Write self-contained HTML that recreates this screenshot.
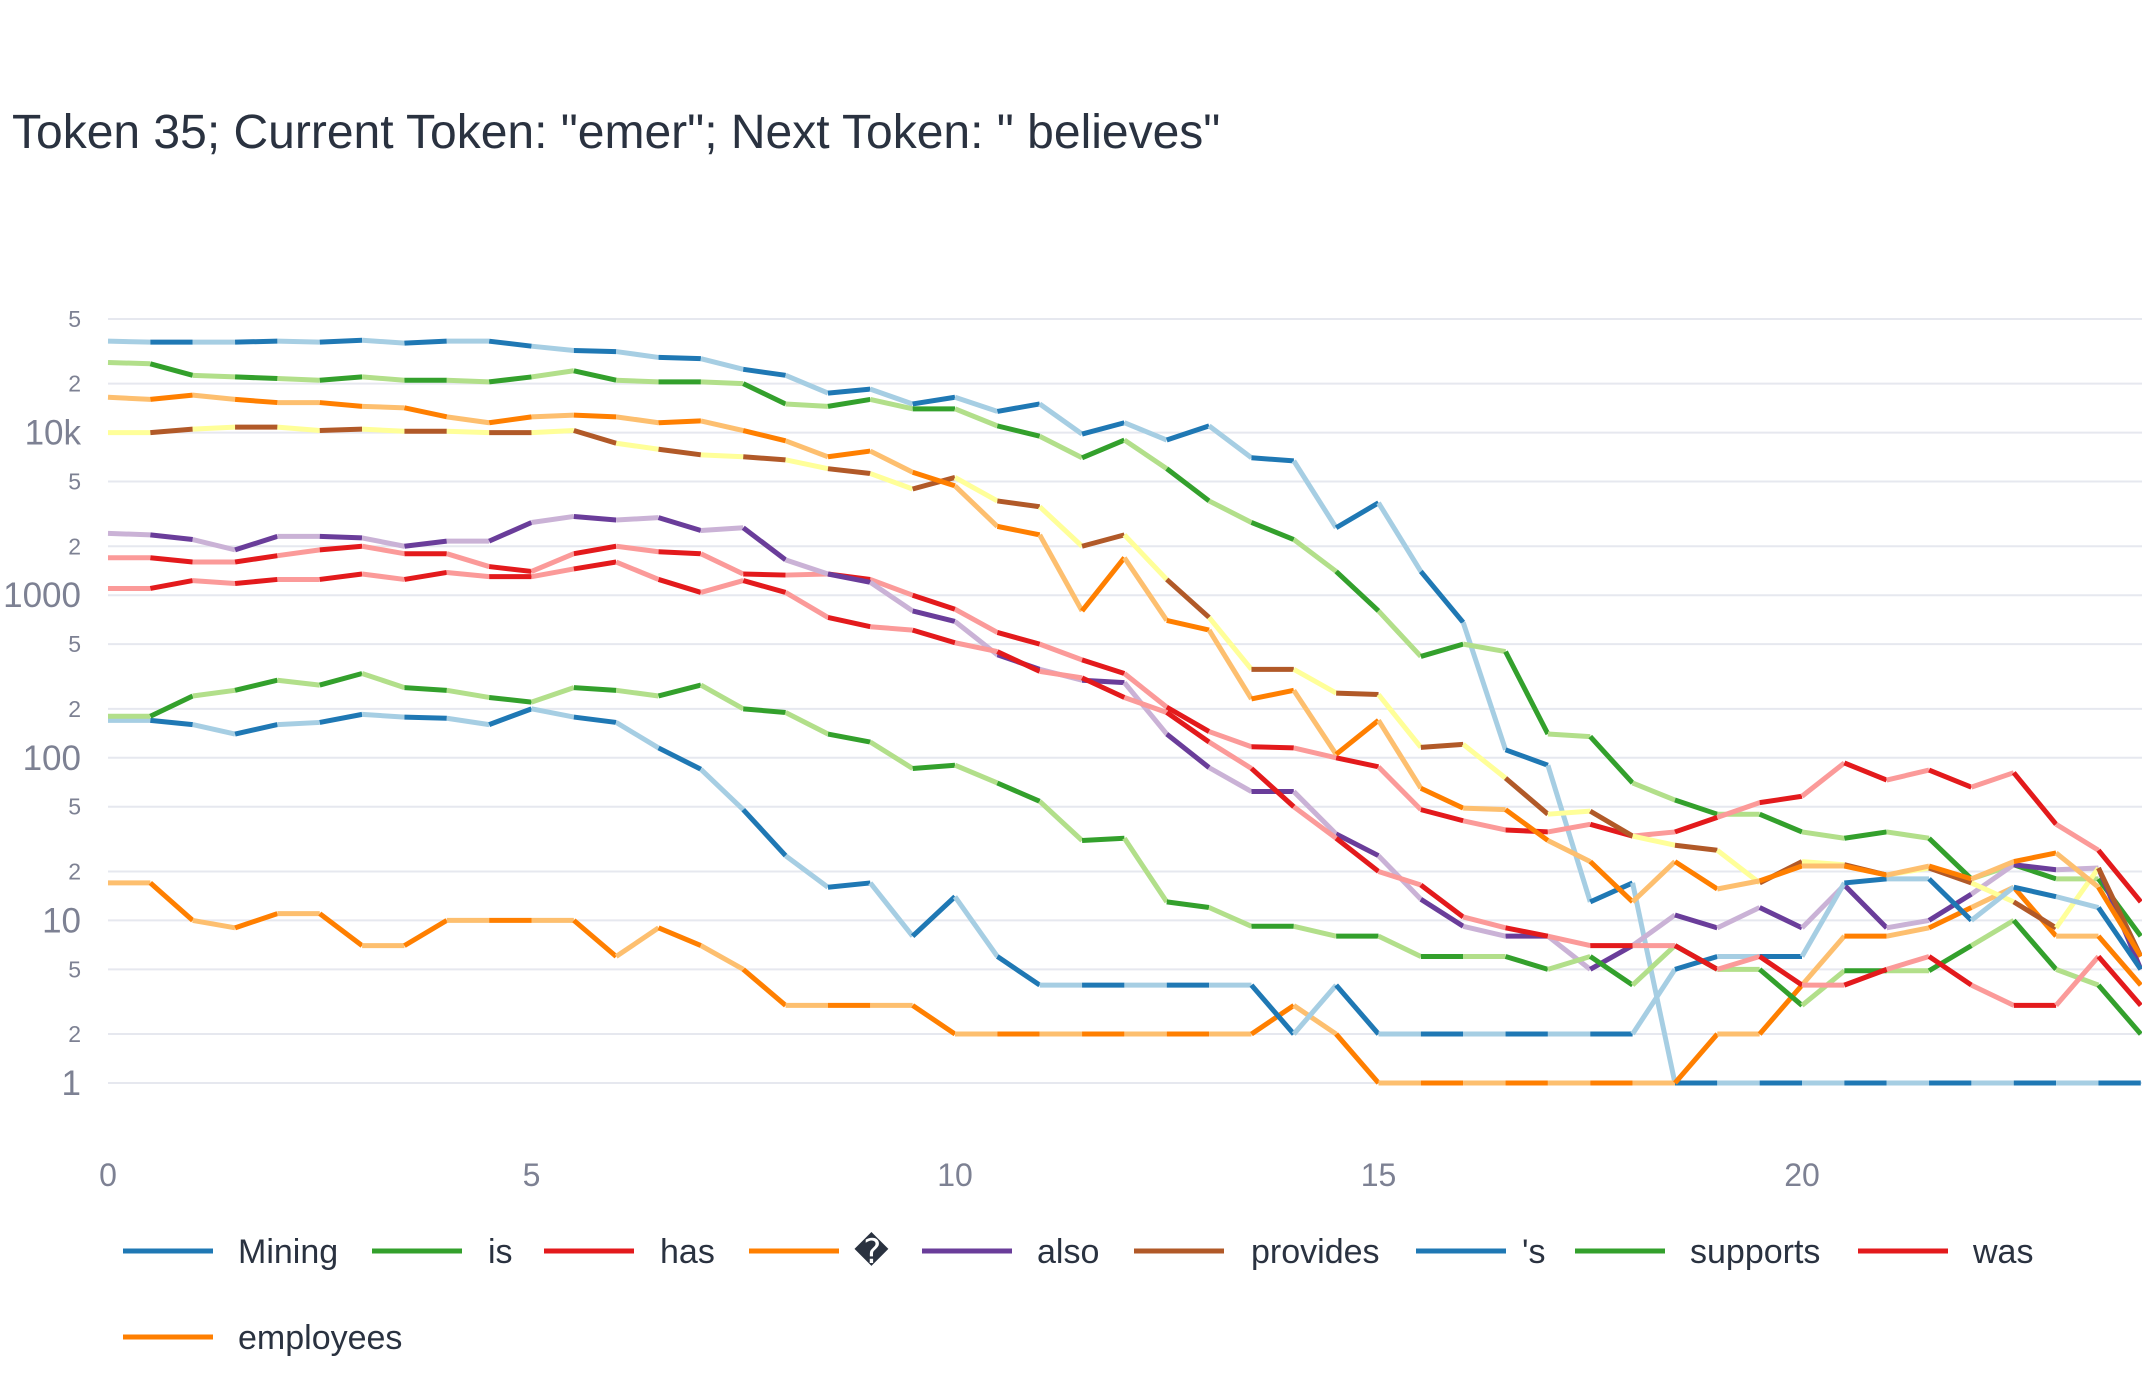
<!DOCTYPE html>
<html><head><meta charset="utf-8">
<style>
html,body{margin:0;padding:0;background:#fff;}
svg{display:block;font-family:"Liberation Sans",sans-serif;}
</style></head>
<body>
<svg id="chart" width="2142" height="1380" viewBox="0 0 2142 1380" xmlns="http://www.w3.org/2000/svg">
<rect width="2142" height="1380" fill="#fff"/>
<text x="12" y="148" font-size="48" fill="#2a3240">Token 35; Current Token: "emer"; Next Token: " believes"</text>
<g id="grid"></g>
<g id="yticks"></g>
<g id="xticks"></g>
<g id="series"></g>
<g id="legend"></g>
</svg>
<script>
const seriesNames = ["Mining","is","has","\uFFFD","also","provides","'s","supports","was","employees"];
const darkColors = ["#1f78b4","#33a02c","#e31a1c","#ff7f00","#6a3d9a","#b15928","#1f78b4","#33a02c","#e31a1c","#ff7f00"];
const lightColors = ["#a6cee3","#b2df8a","#fb9a99","#fdbf6f","#cab2d6","#ffff99","#a6cee3","#b2df8a","#fb9a99","#fdbf6f"];
const xTickValues = [0,5,10,15,20];
const yTickValues = [1,2,5,10,20,50,100,200,500,1000,2000,5000,10000,20000,50000];
const yTickLabels = ["1","2","5","10","2","5","100","2","5","1000","2","5","10k","2","5"];
const yTickMajor = [1,0,0,1,0,0,1,0,0,1,0,0,1,0,0];

const vMining = [36500,36000,36000,36000,36500,36000,37000,35500,36500,36500,34000,32000,31500,29000,28500,24500,22500,17500,18500,15000,16500,13500,15000,9800,11500,9000,11000,7000,6700,2600,3700,1400,680,112,90,13,17,1,1,1,1,1,1,1,1,1,1,1,1];
const vIs = [27000,26500,22500,22000,21500,21000,22000,21000,21000,20500,22000,24000,21000,20500,20500,20000,15000,14500,16000,14000,14000,11000,9500,7000,9000,6000,3800,2800,2200,1400,800,420,500,450,140,135,70,55,45,45,35,32,35,32,18,22,18,18,8];
const vHas = [1700,1700,1600,1600,1750,1900,2000,1800,1800,1500,1400,1800,2000,1850,1800,1350,1330,1350,1250,1000,820,590,500,400,330,205,145,117,115,100,88,48,41,36,35,39,33,35,43,53,58,93,73,84,66,81,39,27,13];
const vQ = [17,17,10,9,11,11,7,7,10,10,10,10,6,9,7,5,3,3,3,3,2,2,2,2,2,2,2,2,3,2,1,1,1,1,1,1,1,1,2,2,4,8,8,9,12,16,8,8,4];
const vAlso = [2400,2350,2200,1900,2300,2300,2250,2000,2150,2150,2800,3050,2900,3000,2500,2600,1650,1350,1200,800,690,430,350,300,290,140,87,62,62,34,25,13.5,9.2,8,8,5,7,10.8,9,12,9,16.5,9,10,14.5,22,20.5,21,5];
const vProvides = [10000,10000,10500,10800,10800,10300,10500,10200,10200,10000,10000,10300,8600,7900,7300,7100,6800,6000,5600,4500,5300,3800,3500,2000,2350,1250,730,350,350,250,245,116,121,75,45,47,33,29,27,17,23,22,19,21,17,13,9,21,6];
const vS = [170,170,160,140,160,165,185,178,175,160,200,178,165,115,85,48,25,16,17,8,14,6,4,4,4,4,4,4,2,4,2,2,2,2,2,2,2,5,6,6,6,17,18,18,10,16,14,12,5];
const vSupports = [180,180,240,260,300,280,330,270,260,235,220,270,260,240,280,200,190,140,125,86,90,70,54,31,32,13,12,9.2,9.2,8,8,6,6,6,5,6,4,7,5,5,3,4.9,4.9,4.9,7,10,5,4,2];
const vWas = [1100,1100,1230,1180,1250,1250,1350,1250,1380,1300,1300,1450,1600,1250,1040,1230,1040,730,640,610,510,450,340,310,235,190,125,86,50,32,20,16.5,10.5,9,8,7,7,7,5,6,4,4,5,6,4,3,3,6,3];
const vEmployees = [16500,16000,17000,16000,15300,15300,14500,14200,12500,11500,12500,12800,12500,11500,11800,10300,8900,7100,7700,5700,4700,2650,2350,800,1700,700,610,230,260,105,170,65,49,48,31,23,13,23,15.6,17.5,21.6,21.6,19,21.6,18,23,26,16,6];
const seriesValues = [vMining,vIs,vHas,vQ,vAlso,vProvides,vS,vSupports,vWas,vEmployees];

const NS="http://www.w3.org/2000/svg";
const X0=108, XU=84.7, Y1=1083, YD=162.6, XR=2142;
function xs(x){return X0+x*XU;}
function ys(v){return Y1-Math.log10(v)*YD;}
function mk(tag,attrs,parent){const e=document.createElementNS(NS,tag);for(const k in attrs)e.setAttribute(k,attrs[k]);parent.appendChild(e);return e;}

const grid=document.getElementById('grid'), yt=document.getElementById('yticks'), xt=document.getElementById('xticks');
yTickValues.forEach((v,i)=>{
  const g=mk('line',{x1:X0,x2:XR,y1:ys(v),y2:ys(v),stroke:'#e6e8ef','stroke-width':2},grid);
  
  
  const big=yTickMajor[i]===1;
  const t=mk('text',{x:81,y:ys(v)+(big?12:8),'text-anchor':'end','font-size':big?35:23,fill:'#7d8193'},yt);
  t.textContent=yTickLabels[i];
  
  
});
xTickValues.forEach(v=>{
  const t=mk('text',{x:xs(v),y:1186,'text-anchor':'middle','font-size':32,fill:'#7d8193'},xt);
  t.textContent=String(v);
  
  
});

const sg=document.getElementById('series');
seriesValues.forEach((vals,si)=>{
  const g=mk('g',{},sg);
  
  
  for(let i=0;i<vals.length-1;i++){
    const l=mk('line',{x1:xs(i*0.5),y1:ys(vals[i]),x2:xs((i+1)*0.5),y2:ys(vals[i+1]),stroke:(i%2===0?lightColors[si]:darkColors[si]),'stroke-width':5},g);
    
    
  }
});

const legendPos=[[123,238,1251],[372,488,1251],[544,660,1251],[749,854,1251],[922,1037,1251],[1134,1251,1251],[1416,1522,1251],[1575,1690,1251],[1858,1973,1251],[123,238,1337]];
const lg=document.getElementById('legend');
seriesNames.forEach((n,i)=>{
  const [lx,tx,ly]=legendPos[i];
  const g=mk('g',{},lg);
  
  
  mk('line',{x1:lx,x2:lx+90,y1:ly,y2:ly,stroke:darkColors[i],'stroke-width':5},g);
  const t=mk('text',{x:tx,y:ly+12,'font-size':34,fill:'#2a3240'},g);
  t.textContent=n;
});
</script>
</body></html>
